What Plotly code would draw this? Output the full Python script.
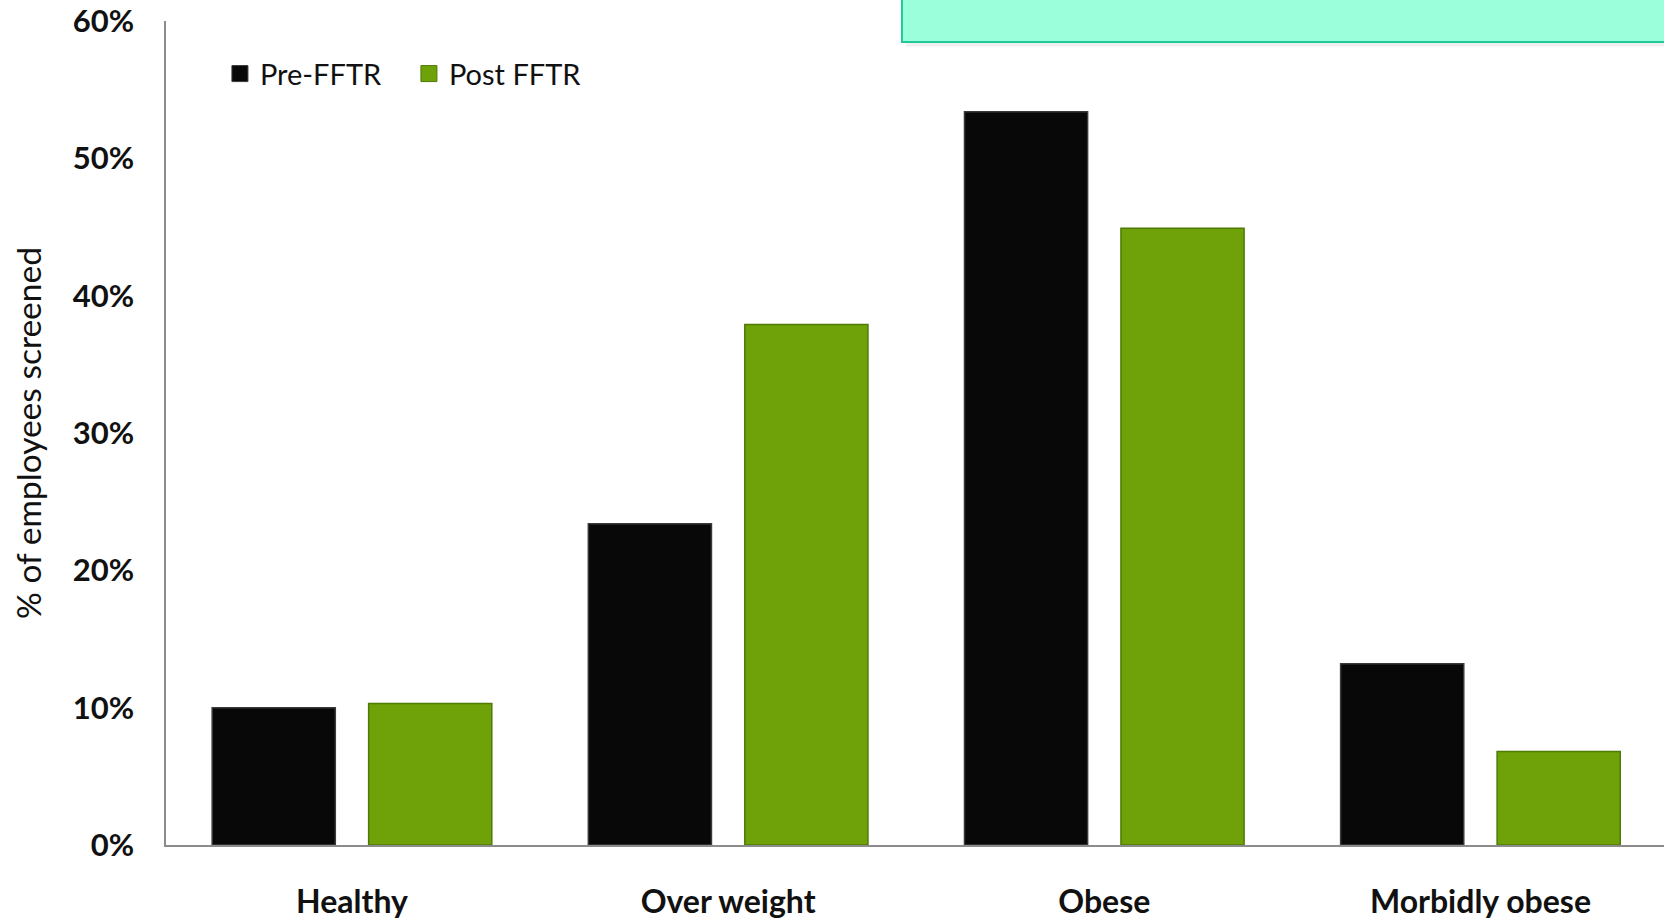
import plotly.graph_objects as go

categories = ["Healthy", "Over weight", "Obese", "Morbidly obese"]
pre_fftr = [0.100, 0.234, 0.534, 0.132]
post_fftr = [0.103, 0.379, 0.449, 0.068]
y_ticks = [0, 0.1, 0.2, 0.3, 0.4, 0.5, 0.6]
y_tick_labels = ["0%", "10%", "20%", "30%", "40%", "50%", "60%"]
series_names = ["Pre-FFTR", "Post FFTR"]
series_colors = ["#080808", "#6ea208"]
series_edges = ["#3a3a3a", "#4f7a06"]

FONT = "Lato, 'Open Sans', sans-serif"

fig = go.Figure()
for vals, name, col, edge in zip([pre_fftr, post_fftr], series_names, series_colors, series_edges):
    fig.add_trace(go.Bar(
        x=categories, y=vals, name=name, showlegend=False,
        marker=dict(color=col, line=dict(color=edge, width=1.5)),
    ))
# legend entries with larger square swatches
for name, col, edge in zip(series_names, series_colors, series_edges):
    fig.add_trace(go.Scatter(
        x=[None], y=[None], mode="markers", name=name,
        marker=dict(symbol="square", size=20, color=col, line=dict(color=edge, width=1)),
    ))

# teal callout box (partially cut off at top-right) with soft shadow
fig.add_shape(type="rect", xref="paper", yref="paper",
              x0=0.494, x1=1.2, y0=0.969, y1=1.2,
              fillcolor="rgba(0,0,0,0.06)", line=dict(width=0), layer="above")
fig.add_shape(type="rect", xref="paper", yref="paper",
              x0=0.4913, x1=1.2, y0=0.9745, y1=1.2,
              fillcolor="#9cffdc", line=dict(color="#20c997", width=2), layer="above")

fig.add_annotation(
    text="% of employees screened", xref="paper", yref="paper",
    x=0, y=0.5, xshift=-160, textangle=-90, showarrow=False,
    font=dict(family=FONT, size=33.5, color="#111111"),
)

fig.update_layout(
    width=1664, height=919,
    margin=dict(l=166, r=0, t=21, b=74),
    paper_bgcolor="white", plot_bgcolor="white",
    barmode="group", bargap=0.168, bargroupgap=0.213,
    showlegend=True,
    legend=dict(orientation="h", x=0.036, xanchor="left", y=0.936, yanchor="middle",
                font=dict(family=FONT, size=29, color="#111111"),
                bgcolor="rgba(0,0,0,0)", traceorder="normal",
                itemwidth=30, entrywidth=144),
    xaxis=dict(range=[-0.4944, 3.488], showline=True, linecolor="#8c8c8c", linewidth=1.5,
               showgrid=False, ticks="", ticklabelstandoff=28,
               tickfont=dict(family=FONT, size=32, color="#111111", weight="bold")),
    yaxis=dict(range=[0, 0.6], tickvals=y_ticks, ticktext=y_tick_labels,
               showline=True, linecolor="#8c8c8c", linewidth=1.5,
               showgrid=False, zeroline=False, ticks="", ticklabelstandoff=24,
               tickfont=dict(family=FONT, size=31, color="#111111", weight="bold")),
)

fig.write_html("out.html")
